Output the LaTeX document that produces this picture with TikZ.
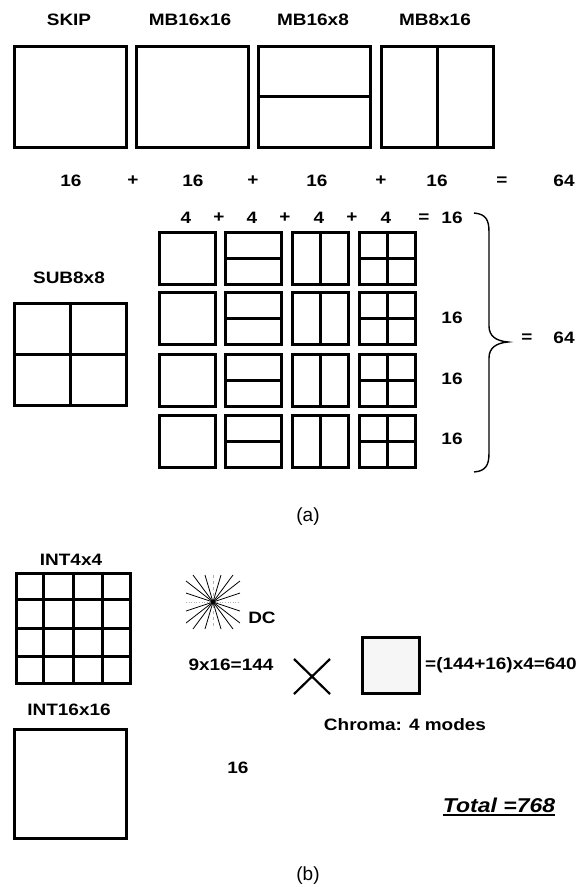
\documentclass[tikz,border=0pt]{standalone}
\usepackage{fontspec}
\usetikzlibrary{calc}
\newfontfamily\lblfont[FakeStretch=1.15]{Liberation Sans}
\newfontfamily\capfont{Liberation Sans}
\begin{document}
\begin{tikzpicture}[x=1pt,y=-1pt,
  lbl/.style={font={\lblfont\bfseries\fontsize{16.5}{18}\selectfont},inner sep=0pt},
  captxt/.style={font={\capfont\fontsize{19}{21}\selectfont},inner sep=0pt},
  blk/.style={draw,line width=3pt,minimum width=112pt,minimum height=101pt,inner sep=0pt},
  sblk/.style={draw,line width=3pt,minimum width=56pt,minimum height=52pt,inner sep=0pt},
  div/.style={line width=3pt},
  ray/.style={line width=0.8pt},
  guide/.style={line width=0.6pt,gray!60,dashed}]
\useasboundingbox (0,0) rectangle (585,887);

% ---------- (a) macroblock partitions ----------
\node[blk] (skip) at (70,96.5) {};
\node[blk] (m1616) at (192,96.5) {};
\node[blk] (m168) at (314.5,96.5) {};
\node[blk] (m816) at (437.5,96.5) {};
\draw[div] (m168.west) -- (m168.east);
\draw[div] (m816.north) -- (m816.south);

\node[lbl] (lskip) at (69,20) {SKIP};
\node[lbl] (l1616) at (190,20) {MB16x16};
\node[lbl] (l168) at (313,20) {MB16x8};
\node[lbl] (l816) at (435,20) {MB8x16};

\node[lbl] (s1) at (71,181) {16};
\node[lbl] (p1) at (133,181) {+};
\node[lbl] (s2) at (193,181) {16};
\node[lbl] (p2) at (253,181) {+};
\node[lbl] (s3) at (317,181) {16};
\node[lbl] (p3) at (381,181) {+};
\node[lbl] (s4) at (437,181) {16};
\node[lbl] (eq1) at (502,181) {=};
\node[lbl] (sum1) at (564,181) {64};

% sub-macroblock partitions
\node[lbl] (lsub) at (69,278) {SUB8x8};
\node[blk,minimum height=102pt] (sub) at (70,354) {};
\draw[div] (sub.north) -- (sub.south);
\draw[div] (sub.west) -- (sub.east);

\foreach \r/\y in {1/258,2/318.5,3/380,4/441}{
  \node[sblk] (a\r) at (187,\y) {};
  \node[sblk] (b\r) at (253.5,\y) {};
  \node[sblk] (c\r) at (320,\y) {};
  \node[sblk] (d\r) at (387.5,\y) {};
  \draw[div] (b\r.west) -- (b\r.east);
  \draw[div] (c\r.north) -- (c\r.south);
  \draw[div] (d\r.west) -- (d\r.east);
  \draw[div] (d\r.north) -- (d\r.south);
}

\node[lbl] (h1) at (186,218) {4};
\node[lbl] (hp1) at (219,218) {+};
\node[lbl] (h2) at (252,218) {4};
\node[lbl] (hp2) at (285,218) {+};
\node[lbl] (h3) at (319,218) {4};
\node[lbl] (hp3) at (352,218) {+};
\node[lbl] (h4) at (386,218) {4};
\node[lbl] (heq) at (424,218) {=};
\node[lbl] (hs) at (452,218) {16};
\node[lbl] (r2) at (452,318) {16};
\node[lbl] (r3) at (452,379) {16};
\node[lbl] (r4) at (452,439) {16};

% brace collecting the four rows
\coordinate (bt) at (474,213);
\coordinate (bm) at (508,342);
\coordinate (bb) at (474,472);
\draw[line width=1.4pt]
  (bt) .. controls (486,214) and (489,220) .. (489,232) -- (489,326)
  .. controls (489,336) and (496,341) .. (bm)
  .. controls (496,343) and (489,348) .. (489,358) -- (489,453)
  .. controls (489,465) and (486,471) .. (bb);
\node[lbl] (beq) at (527,338) {=};
\node[lbl] (bsum) at (564,338) {64};

\node[captxt] (capa) at (308,517) {(a)};

% ---------- (b) intra modes ----------
\node[lbl] (lint4) at (71,560) {INT4x4};
\node[draw,line width=3pt,minimum width=114pt,minimum height=110pt,inner sep=0pt] (int4) at (73,628) {};
\foreach \k in {1,2,3}{
  \draw[div] ($(int4.north west)!\k/4!(int4.north east)$) -- ($(int4.south west)!\k/4!(int4.south east)$);
  \draw[div] ($(int4.north west)!\k/4!(int4.south west)$) -- ($(int4.north east)!\k/4!(int4.south east)$);
}

% DC starburst
\coordinate (sc) at (213,602);
\draw[guide] ($(sc)+(0,-27)$) -- ($(sc)+(0,27)$);
\draw[guide,dotted] ($(sc)+(-27,0)$) -- ($(sc)+(27,0)$);
\foreach \dx/\dy in {27/9,27/21,20/27,8/27,-8/27,-20/27,-27/21,-27/9}{
  \draw[ray] ($(sc)+(\dx,\dy)$) -- ($(sc)-(\dx,\dy)$);
}
\node[lbl] (dc) at (262,618) {DC};

\node[lbl] (lum) at (231,665) {9x16=144};
\coordinate (xc) at (312,676.5);
\draw[line width=2.2pt] ($(xc)+(-18,-17.5)$) -- ($(xc)+(18,17.5)$);
\draw[line width=2.2pt] ($(xc)+(18,-17.5)$) -- ($(xc)+(-18,17.5)$);
\node[draw,line width=3pt,fill=gray!7,minimum width=57pt,minimum height=56pt,inner sep=0pt] (chbox) at (390.5,665) {};
\node[lbl,anchor=west] (chsum) at (425,665) {=(144+16)x4=640};
\node[lbl] (chlbl) at (405,725) {Chroma: 4 modes};

\node[lbl] (lint16) at (69,710) {INT16x16};
\node[blk,minimum height=109pt] (int16) at (70,783.5) {};
\node[lbl] (n16) at (238,768) {16};

\node[lbl,font={\lblfont\bfseries\itshape\fontsize{20}{22}\selectfont}] (tot) at (499,805) {Total =768};
\draw[line width=2pt] ([yshift=-3pt]tot.base west) -- ([yshift=-3pt]tot.base east);

\node[captxt] (capb) at (308,876) {(b)};
\end{tikzpicture}
\end{document}
